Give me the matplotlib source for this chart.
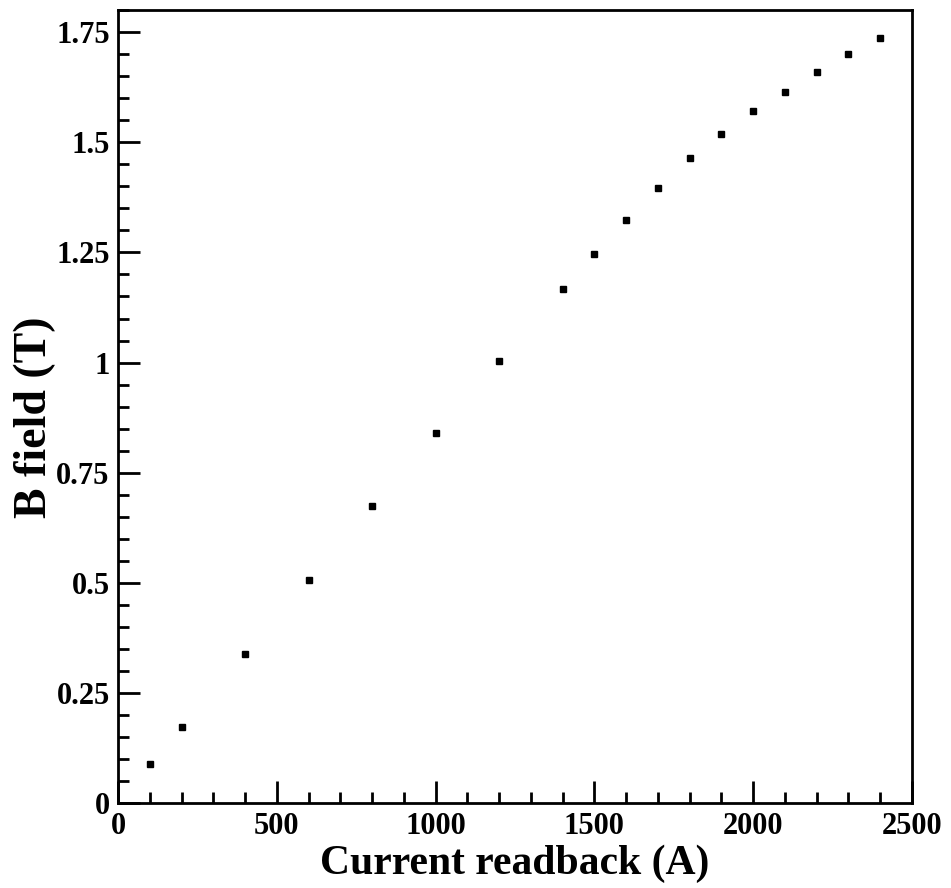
import matplotlib
matplotlib.use('Agg')
import matplotlib.pyplot as plt
from matplotlib.ticker import MultipleLocator, FuncFormatter

# Dati
current = [100, 200, 400, 600, 800, 1000, 1200, 1400, 1500, 1600,
           1700, 1800, 1900, 2000, 2100, 2200, 2300, 2400]
bfield = [0.089, 0.173, 0.339, 0.507, 0.675, 0.840, 1.004, 1.167, 1.247, 1.324,
          1.396, 1.464, 1.519, 1.571, 1.614, 1.659, 1.700, 1.736]

plt.rcParams['font.family'] = ['Liberation Serif']
plt.rcParams['font.weight'] = 'bold'

fig = plt.figure(figsize = (9.51, 8.88), dpi = 100)
ax = fig.add_axes([0.1241, 0.0954, 0.8349, 0.8933])

ax.plot(
    current,
    bfield,
    linestyle = '',
    marker = 's',
    markersize = 4.3,
    color = 'k'
    )

# Opzioni
ax.set_xlim(0, 2500)
ax.set_ylim(0, 1.8)

ax.xaxis.set_major_locator(MultipleLocator(500))
ax.xaxis.set_minor_locator(MultipleLocator(100))
ax.yaxis.set_major_locator(MultipleLocator(0.25))
ax.yaxis.set_minor_locator(MultipleLocator(0.05))

def fmt(v, pos):
    return f'{v:g}'

ax.yaxis.set_major_formatter(FuncFormatter(fmt))

ax.tick_params(which = 'both', direction = 'in', width = 2, labelsize = 22, pad = 6,
               top = False, right = False)
ax.tick_params(which = 'major', length = 16)
ax.tick_params(which = 'minor', length = 8)

for spine in ax.spines.values():
    spine.set_linewidth(2)

# Titoli Assi
ax.set_xlabel('Current readback (A)', fontsize = 30, fontweight = 'bold', labelpad = 3)
ax.set_ylabel('B field (T)', fontsize = 33, fontweight = 'bold')
ax.yaxis.set_label_coords(-0.078, 0.487)

fig.savefig('out.png', dpi = 100)
